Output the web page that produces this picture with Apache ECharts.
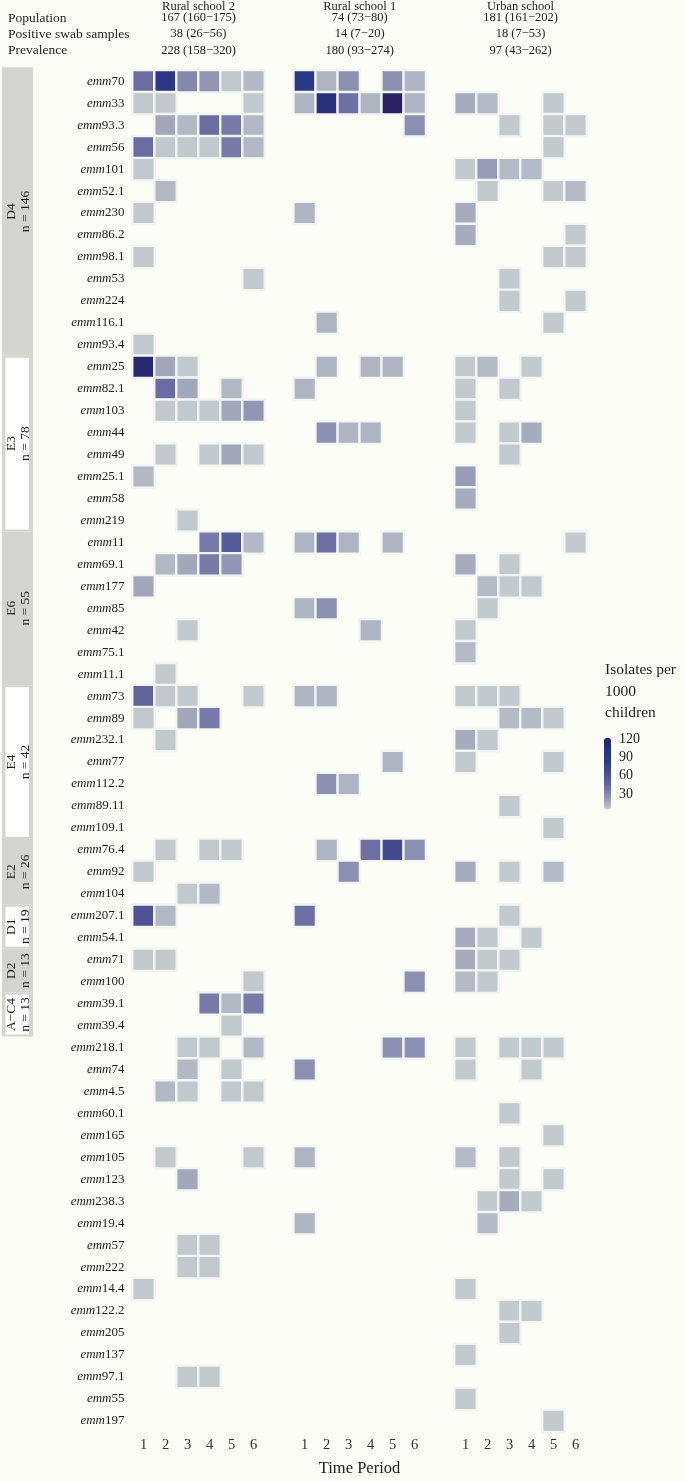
<!DOCTYPE html>
<html><head><meta charset="utf-8">
<script src="https://cdn.jsdelivr.net/npm/echarts@6/dist/echarts.min.js"></script>
<style>html,body{margin:0;padding:0;background:#fdfdf8}#c{width:686px;height:1481px}</style>
</head><body><div id="c"></div><script>
const emmTypes = ['emm70','emm33','emm93.3','emm56','emm101','emm52.1','emm230','emm86.2','emm98.1','emm53','emm224','emm116.1','emm93.4',
  'emm25','emm82.1','emm103','emm44','emm49','emm25.1','emm58','emm219',
  'emm11','emm69.1','emm177','emm85','emm42','emm75.1','emm11.1',
  'emm73','emm89','emm232.1','emm77','emm112.2','emm89.11','emm109.1',
  'emm76.4','emm92','emm104','emm207.1','emm54.1','emm71','emm100','emm39.1','emm39.4',
  'emm218.1','emm74','emm4.5','emm60.1','emm165','emm105','emm123','emm238.3','emm19.4','emm57','emm222',
  'emm14.4','emm122.2','emm205','emm137','emm97.1','emm55','emm197'];
const timePeriods = ['1','2','3','4','5','6'];
const schoolNames = ['Rural school 2','Rural school 1','Urban school'];
const statLabels = ['Population','Positive swab samples','Prevalence'];
const population = ['167 (160\u2212175)','74 (73\u221280)','181 (161\u2212202)'];
const positiveSwabs = ['38 (26\u221256)','14 (7\u221220)','18 (7\u221253)'];
const prevalence = ['228 (158\u2212320)','180 (93\u2212274)','97 (43\u2212262)'];

// [emm type, time period, isolates per 1000 children]
const rural2Cells = [
  ['emm70',1,42],['emm70',2,96],['emm70',3,30],['emm70',4,24],['emm70',5,6],['emm70',6,12],
  ['emm33',1,6],['emm33',2,6],['emm33',6,6],
  ['emm93.3',2,18],['emm93.3',3,12],['emm93.3',4,42],['emm93.3',5,36],['emm93.3',6,12],
  ['emm56',1,42],['emm56',2,6],['emm56',3,6],['emm56',4,6],['emm56',5,36],['emm56',6,12],
  ['emm101',1,6],['emm52.1',2,12],['emm230',1,6],['emm98.1',1,6],['emm53',6,6],['emm93.4',1,6],
  ['emm25',1,114],['emm25',2,18],['emm25',3,6],
  ['emm82.1',2,42],['emm82.1',3,18],['emm82.1',5,12],
  ['emm103',2,6],['emm103',3,6],['emm103',4,6],['emm103',5,18],['emm103',6,24],
  ['emm49',2,6],['emm49',4,6],['emm49',5,18],['emm49',6,6],
  ['emm25.1',1,12],['emm219',3,6],
  ['emm11',4,36],['emm11',5,54],['emm11',6,12],
  ['emm69.1',2,12],['emm69.1',3,18],['emm69.1',4,36],['emm69.1',5,24],
  ['emm177',1,18],['emm42',3,6],['emm11.1',2,6],
  ['emm73',1,48],['emm73',2,6],['emm73',3,6],['emm73',6,6],
  ['emm89',1,6],['emm89',3,18],['emm89',4,36],
  ['emm232.1',2,6],
  ['emm76.4',2,6],['emm76.4',4,6],['emm76.4',5,6],
  ['emm92',1,6],['emm104',3,6],['emm104',4,12],
  ['emm207.1',1,60],['emm207.1',2,12],
  ['emm71',1,6],['emm71',2,6],['emm100',6,6],
  ['emm39.1',4,36],['emm39.1',5,12],['emm39.1',6,36],['emm39.4',5,6],
  ['emm218.1',3,6],['emm218.1',4,6],['emm218.1',6,12],
  ['emm74',3,12],['emm74',5,6],
  ['emm4.5',2,12],['emm4.5',3,6],['emm4.5',5,6],['emm4.5',6,6],
  ['emm105',2,6],['emm105',6,6],['emm123',3,18],
  ['emm57',3,6],['emm57',4,6],['emm222',3,6],['emm222',4,6],
  ['emm14.4',1,6],['emm97.1',3,6],['emm97.1',4,6]
];
const rural1Cells = [
  ['emm70',1,94.6],['emm70',2,13.5],['emm70',3,27],['emm70',5,27],['emm70',6,13.5],
  ['emm33',1,13.5],['emm33',2,108.1],['emm33',3,40.5],['emm33',4,13.5],['emm33',5,121.6],['emm33',6,13.5],
  ['emm93.3',6,27],['emm230',1,13.5],['emm116.1',2,13.5],
  ['emm25',2,13.5],['emm25',4,13.5],['emm25',5,13.5],
  ['emm82.1',1,13.5],
  ['emm44',2,27],['emm44',3,13.5],['emm44',4,13.5],
  ['emm11',1,13.5],['emm11',2,40.5],['emm11',3,13.5],['emm11',5,13.5],
  ['emm85',1,13.5],['emm85',2,27],['emm42',4,13.5],
  ['emm73',1,13.5],['emm73',2,13.5],['emm77',5,13.5],
  ['emm112.2',2,27],['emm112.2',3,13.5],
  ['emm76.4',2,13.5],['emm76.4',4,40.5],['emm76.4',5,67.6],['emm76.4',6,27],
  ['emm92',3,27],['emm207.1',1,40.5],['emm100',6,27],
  ['emm218.1',5,27],['emm218.1',6,27],['emm74',1,27],['emm105',1,13.5],['emm19.4',1,13.5]
];
const urbanCells = [
  ['emm33',1,16.6],['emm33',2,11],['emm33',5,5.5],
  ['emm93.3',3,5.5],['emm93.3',5,5.5],['emm93.3',6,5.5],['emm56',5,5.5],
  ['emm101',1,5.5],['emm101',2,22.1],['emm101',3,11],['emm101',4,11],
  ['emm52.1',2,5.5],['emm52.1',5,5.5],['emm52.1',6,11],
  ['emm230',1,16.6],['emm86.2',1,16.6],['emm86.2',6,5.5],
  ['emm98.1',5,5.5],['emm98.1',6,5.5],['emm53',3,5.5],['emm224',3,5.5],['emm224',6,5.5],['emm116.1',5,5.5],
  ['emm25',1,5.5],['emm25',2,11],['emm25',4,5.5],
  ['emm82.1',1,5.5],['emm82.1',3,5.5],['emm103',1,5.5],
  ['emm44',1,5.5],['emm44',3,5.5],['emm44',4,16.6],['emm49',3,5.5],
  ['emm25.1',1,22.1],['emm58',1,16.6],['emm11',6,5.5],
  ['emm69.1',1,16.6],['emm69.1',3,5.5],
  ['emm177',2,11],['emm177',3,5.5],['emm177',4,5.5],
  ['emm85',2,5.5],['emm42',1,5.5],['emm75.1',1,11],
  ['emm73',1,5.5],['emm73',2,5.5],['emm73',3,5.5],
  ['emm89',3,11],['emm89',4,11],['emm89',5,5.5],
  ['emm232.1',1,16.6],['emm232.1',2,5.5],
  ['emm77',1,5.5],['emm77',5,5.5],['emm89.11',3,5.5],['emm109.1',5,5.5],
  ['emm92',1,16.6],['emm92',3,5.5],['emm92',5,11],
  ['emm207.1',3,5.5],
  ['emm54.1',1,16.6],['emm54.1',2,5.5],['emm54.1',4,5.5],
  ['emm71',1,16.6],['emm71',2,5.5],['emm71',3,5.5],
  ['emm100',1,11],['emm100',2,5.5],
  ['emm218.1',1,5.5],['emm218.1',3,5.5],['emm218.1',4,5.5],['emm218.1',5,5.5],
  ['emm74',1,5.5],['emm74',4,5.5],['emm60.1',3,5.5],['emm165',5,5.5],
  ['emm105',1,11],['emm105',3,5.5],['emm123',3,5.5],['emm123',5,5.5],
  ['emm238.3',2,5.5],['emm238.3',3,16.6],['emm238.3',4,5.5],
  ['emm19.4',2,11],['emm14.4',1,5.5],['emm122.2',3,5.5],['emm122.2',4,5.5],
  ['emm205',3,5.5],['emm137',1,5.5],['emm55',1,5.5],['emm197',5,5.5]
];
const clusterNames = ['D4','E3','E6','E4','E2','D1','D2','A\u2212C4'];
const clusterN = [146,78,55,42,26,19,13,13];
const clusterRowCounts = [13,8,7,7,3,2,2,2];
const legendTicks = [30,60,90,120];
const colourMin = 5.5, colourMax = 121.6;
const palette = ['#c3cacd','#9094b3','#6668a0','#4a4e92','#2f3a86','#273585','#2a2163'];

const FONT = "'Liberation Serif','DejaVu Serif',serif";
const TXT = '#1e1e1e';
const allCells = [rural2Cells, rural1Cells, urbanCells];
const gridLefts = [132.5, 293.7, 454.5];
const GRID_TOP = 70.3, GRID_H = 1361.5, GRID_W = 132;

const chart = echarts.init(document.getElementById('c'), null, {renderer:'canvas'});
const grids = [], xAxes = [], yAxes = [], series = [];
for (let i = 0; i < 3; i++) {
  grids.push({left: gridLefts[i], top: GRID_TOP, width: GRID_W, height: GRID_H, containLabel: false});
  xAxes.push({type:'category', gridIndex:i, data: timePeriods, position:'bottom',
    axisLine:{show:false}, axisTick:{show:false}, splitLine:{show:false},
    axisLabel:{fontFamily:FONT, fontSize:14.5, color:'#333', margin:6}});
  yAxes.push({type:'category', gridIndex:i, data: emmTypes, inverse:true,
    axisLine:{show:false}, axisTick:{show:false}, splitLine:{show:false},
    axisLabel:{show: i === 0, margin:8, fontFamily:FONT,
      formatter: v => '{i|emm}{n|' + v.slice(3) + '}',
      rich:{i:{fontStyle:'italic', fontFamily:FONT, fontSize:13, color:TXT}, n:{fontFamily:FONT, fontSize:13, color:TXT}}}});
  series.push({type:'heatmap', xAxisIndex:i, yAxisIndex:i,
    data: allCells[i].map(([e,p,v]) => [timePeriods.indexOf(String(p)), emmTypes.indexOf(e), v]),
    itemStyle:{borderColor:'#f4f5f3', borderWidth:2.4},
    emphasis:{disabled:true}, silent:true});
}
const LEG_TOP = 738, LEG_H = 71, LEG_LEFT = 604, LEG_W = 7;
chart.setOption({
  backgroundColor:'#fdfdf8',
  animation:false,
  grid: grids, xAxis: xAxes, yAxis: yAxes, series: series,
  visualMap:{type:'continuous', min:colourMin, max:colourMax, seriesIndex:[0,1,2], orient:'vertical',
    left:LEG_LEFT, top:LEG_TOP, itemWidth:LEG_W, itemHeight:LEG_H, padding:0, calculable:false, text:null,
    inRange:{color: palette}}
});

// graphics
const g = [];
const centers = [0,1,2].map(i => {
  const a = chart.convertToPixel({xAxisIndex:i}, timePeriods[0]);
  const b = chart.convertToPixel({xAxisIndex:i}, timePeriods[timePeriods.length-1]);
  return (a + b) / 2;
});
const statRows = [population, positiveSwabs, prevalence];
const rowY = [18, 34, 50.5];
statLabels.forEach((s, k) => g.push({type:'text', x:8, y:rowY[k], style:{text:s, font:'13.5px ' + FONT, fill:TXT, textVerticalAlign:'middle'}}));
schoolNames.forEach((s, i) => {
  g.push({type:'text', x:centers[i], y:7, style:{text:s, font:'12.5px ' + FONT, fill:TXT, textAlign:'center', textVerticalAlign:'middle'}});
  statRows.forEach((arr, k) => g.push({type:'text', x:centers[i], y:rowY[k], style:{text:arr[i], font:'12.5px ' + FONT, fill:TXT, textAlign:'center', textVerticalAlign:'middle'}}));
});
// cluster sidebar
const rowPx = r => chart.convertToPixel({yAxisIndex:0}, emmTypes[r]);
const band = rowPx(1) - rowPx(0);
let start = 0;
clusterNames.forEach((name, k) => {
  const end = start + clusterRowCounts[k] - 1;
  let y0 = rowPx(start) - band/2, y1 = rowPx(end) + band/2;
  if (k === 0) y0 -= 3;
  g.push({type:'rect', shape:{x:2, y:y0, width:31, height:y1-y0}, style:{fill:'#d4d4d1'}, silent:true});
  if (k % 2 === 1) g.push({type:'rect', shape:{x:5.5, y:y0+2, width:23.5, height:y1-y0-4}, style:{fill:'#ffffff'}, silent:true});
  g.push({type:'text', x:18.5, y:(y0+y1)/2, rotation:Math.PI/2,
    style:{text:name + '\nn = ' + clusterN[k], font:'13.5px ' + FONT, fill:TXT, textAlign:'center', textVerticalAlign:'middle', lineHeight:13.5}});
  start = end + 1;
});
// legend title and ticks
['Isolates per','1000','children'].forEach((t, k) => g.push({type:'text', x:605, y:670 + k*21.5, style:{text:t, font:'15.5px ' + FONT, fill:TXT, textVerticalAlign:'middle'}}));
legendTicks.forEach(v => {
  const y = LEG_TOP + (colourMax - v) / (colourMax - colourMin) * LEG_H;
  g.push({type:'text', x:619, y:y, style:{text:String(v), font:'14px ' + FONT, fill:TXT, textVerticalAlign:'middle'}});
  g.push({type:'line', shape:{x1:LEG_LEFT, y1:y, x2:LEG_LEFT+1.5, y2:y}, style:{stroke:'#ffffff', lineWidth:0.8}});
  g.push({type:'line', shape:{x1:LEG_LEFT+LEG_W-1.5, y1:y, x2:LEG_LEFT+LEG_W, y2:y}, style:{stroke:'#ffffff', lineWidth:0.8}});
});
g.push({type:'text', x:(centers[0]+centers[2])/2, y:1469, style:{text:'Time Period', font:'16.5px ' + FONT, fill:TXT, textAlign:'center', textVerticalAlign:'middle'}});
chart.setOption({graphic: g});
</script></body></html>
